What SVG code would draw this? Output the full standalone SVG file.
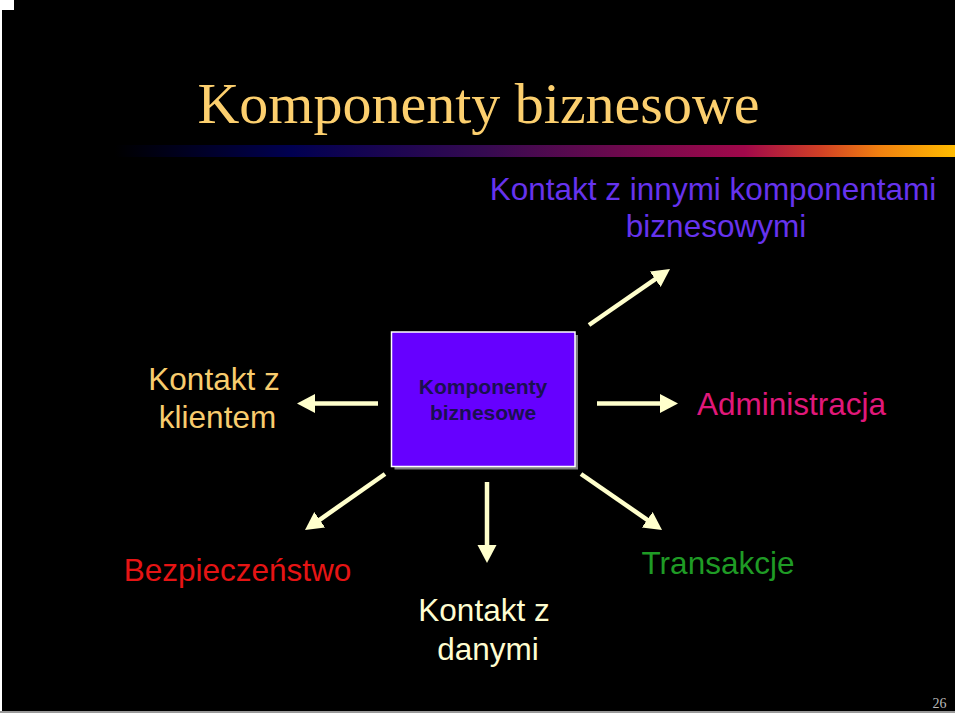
<svg xmlns="http://www.w3.org/2000/svg" width="960" height="713" viewBox="0 0 960 713">
  <defs>
    <linearGradient id="bar" x1="0" y1="0" x2="1" y2="0">
      <stop offset="0" stop-color="#000000"/>
      <stop offset="0.21" stop-color="#000050"/>
      <stop offset="0.44" stop-color="#350a50"/>
      <stop offset="0.75" stop-color="#a0084a"/>
      <stop offset="0.84" stop-color="#d04025"/>
      <stop offset="0.91" stop-color="#f08010"/>
      <stop offset="1" stop-color="#ffbb00"/>
    </linearGradient>
    <marker id="head" markerUnits="userSpaceOnUse" markerWidth="19" markerHeight="20" refX="8" refY="9.5" orient="auto">
      <path d="M0,0 L18,9.5 L0,19 Z" fill="#ffffcc"/>
    </marker>
    <style>
      .sans { font-family: "Liberation Sans", Arial, sans-serif; font-size: 31.5px; }
      .arrow { stroke: #ffffcc; stroke-width: 4.5; fill: none; marker-end: url(#head); }
    </style>
  </defs>

  <!-- slide background -->
  <rect x="0" y="0" width="960" height="713" fill="#ffffff"/>
  <rect x="2" y="0" width="953" height="711" fill="#000000"/>
  <rect x="0" y="711" width="955" height="2" fill="#999999"/>
  <rect x="0" y="0" width="14" height="10" fill="#ffffff"/>

  <!-- title -->
  <text x="478.5" y="123" text-anchor="middle" font-family="'Liberation Serif', 'Times New Roman', serif" font-size="58" fill="#fccf6e">Komponenty biznesowe</text>
  <rect x="115" y="145" width="840" height="12" fill="url(#bar)"/>

  <!-- central node -->
  <g id="node-center">
    <rect x="394.5" y="335" width="183.5" height="134.5" fill="#808080"/>
    <rect x="391.5" y="332" width="183.5" height="134.5" fill="#6600ff" stroke="#ffffff" stroke-width="1.5"/>
    <text x="483" y="394" text-anchor="middle" font-family="'Liberation Sans', Arial, sans-serif" font-size="21" font-weight="bold" fill="#1a1050">Komponenty</text>
    <text x="483" y="420" text-anchor="middle" font-family="'Liberation Sans', Arial, sans-serif" font-size="21" font-weight="bold" fill="#1a1050">biznesowe</text>
  </g>

  <g id="node-inne">
    <text class="sans" x="713" y="200" text-anchor="middle" fill="#6633ee">Kontakt z innymi komponentami</text>
    <text class="sans" x="716" y="237" text-anchor="middle" fill="#6633ee">biznesowymi</text>
  </g>

  <g id="node-klient">
    <text class="sans" x="214" y="390" text-anchor="middle" fill="#f8cc6e">Kontakt z</text>
    <text class="sans" x="217.5" y="428" text-anchor="middle" fill="#f8cc6e">klientem</text>
  </g>

  <g id="node-admin">
    <text class="sans" x="697" y="415" fill="#e0187a">Administracja</text>
  </g>

  <g id="node-bezpieczenstwo">
    <text class="sans" x="237.5" y="581" text-anchor="middle" fill="#e61414">Bezpieczeństwo</text>
  </g>

  <g id="node-dane">
    <text class="sans" x="484" y="621" text-anchor="middle" fill="#fffdd0">Kontakt z</text>
    <text class="sans" x="488" y="660" text-anchor="middle" fill="#fffdd0">danymi</text>
  </g>

  <g id="node-transakcje">
    <text class="sans" x="718" y="574" text-anchor="middle" fill="#1f9b25">Transakcje</text>
  </g>

  <!-- connectors -->
  <g id="connectors">
    <line class="arrow" x1="589" y1="325" x2="661.8" y2="274.7"/>
    <line class="arrow" x1="378" y1="403.5" x2="307" y2="403.5"/>
    <line class="arrow" x1="597" y1="403.5" x2="668" y2="403.5"/>
    <line class="arrow" x1="385" y1="474" x2="313.2" y2="524.3"/>
    <line class="arrow" x1="487" y1="482" x2="487" y2="553"/>
    <line class="arrow" x1="581" y1="474" x2="653.8" y2="524.3"/>
  </g>

  <text x="932.5" y="708" font-family="'Liberation Serif', 'Times New Roman', serif" font-size="14" fill="#bbbbbb">26</text>
</svg>
